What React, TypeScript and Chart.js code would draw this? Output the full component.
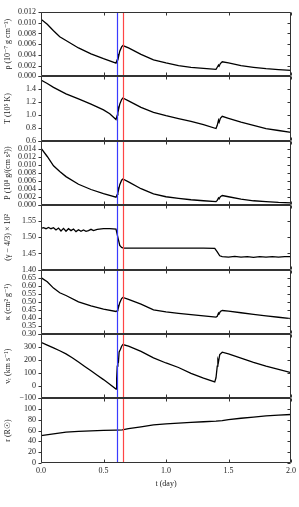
import React, { useEffect, useRef } from 'react';
import { Chart, registerables } from 'chart.js';

Chart.register(...registerables);

// ---------- data ----------
const X_MIN = 0;
const X_MAX = 2.0;
const X_STEP = 0.5;
const MARKER_BLUE_T = 0.608;
const MARKER_RED_T = 0.653;

const RHO_T = [0, 0.05, 0.1, 0.15, 0.2, 0.3, 0.4, 0.5, 0.6, 0.61, 0.615, 0.62, 0.63, 0.645, 0.655, 0.7, 0.8, 0.9, 1.0, 1.1, 1.2, 1.3, 1.4, 1.41, 1.42, 1.425, 1.435, 1.45, 1.5, 1.6, 1.7, 1.8, 1.9, 2.0];
const RHO = [0.01065, 0.0097, 0.0085, 0.0074, 0.0067, 0.0053, 0.0042, 0.0033, 0.00248, 0.0031, 0.0040, 0.0036, 0.0047, 0.0055, 0.00575, 0.0053, 0.0041, 0.0031, 0.0025, 0.0020, 0.0017, 0.0015, 0.0013, 0.0017, 0.0021, 0.0019, 0.0024, 0.00273, 0.0025, 0.0020, 0.0017, 0.00143, 0.00125, 0.00111];

const TEMP_T = [0, 0.05, 0.1, 0.15, 0.2, 0.3, 0.4, 0.5, 0.55, 0.6, 0.61, 0.615, 0.62, 0.63, 0.645, 0.655, 0.7, 0.8, 0.9, 1.0, 1.1, 1.2, 1.3, 1.4, 1.41, 1.42, 1.425, 1.435, 1.45, 1.5, 1.6, 1.7, 1.8, 1.9, 2.0];
const TEMP = [1.543, 1.49, 1.43, 1.38, 1.33, 1.25, 1.17, 1.08, 1.02, 0.93, 1.0, 1.12, 1.08, 1.17, 1.24, 1.265, 1.22, 1.12, 1.04, 0.99, 0.945, 0.90, 0.85, 0.79, 0.84, 0.92, 0.89, 0.95, 0.98, 0.95, 0.89, 0.84, 0.79, 0.76, 0.73];

const PRES_T = [0, 0.05, 0.1, 0.15, 0.2, 0.3, 0.4, 0.5, 0.6, 0.61, 0.615, 0.62, 0.63, 0.645, 0.655, 0.7, 0.8, 0.9, 1.0, 1.1, 1.2, 1.3, 1.4, 1.41, 1.42, 1.425, 1.435, 1.45, 1.5, 1.6, 1.7, 1.8, 1.9, 2.0];
const PRES = [0.0142, 0.0121, 0.0098, 0.0084, 0.0071, 0.0052, 0.0039, 0.0029, 0.0020, 0.0027, 0.0042, 0.0037, 0.0051, 0.0062, 0.0065, 0.0058, 0.0041, 0.0028, 0.0021, 0.0017, 0.00135, 0.0011, 0.0009, 0.0012, 0.0018, 0.0016, 0.0021, 0.0024, 0.0021, 0.0015, 0.0011, 0.0009, 0.0007, 0.00057];

const GAMMA_T = [0, 0.02, 0.04, 0.06, 0.08, 0.10, 0.12, 0.14, 0.16, 0.18, 0.20, 0.22, 0.24, 0.26, 0.28, 0.30, 0.32, 0.34, 0.36, 0.38, 0.40, 0.42, 0.45, 0.50, 0.55, 0.60, 0.615, 0.63, 0.645, 0.66, 0.70, 0.80, 0.90, 1.00, 1.10, 1.20, 1.30, 1.39, 1.41, 1.43, 1.45, 1.50, 1.55, 1.60, 1.65, 1.70, 1.75, 1.80, 1.85, 1.90, 1.95, 2.00];
const GAMMA = [1.528, 1.530, 1.527, 1.531, 1.527, 1.530, 1.523, 1.529, 1.520, 1.528, 1.519, 1.527, 1.521, 1.526, 1.518, 1.524, 1.519, 1.523, 1.519, 1.521, 1.525, 1.521, 1.525, 1.527, 1.527, 1.526, 1.500, 1.475, 1.469, 1.467, 1.467, 1.467, 1.467, 1.467, 1.467, 1.467, 1.467, 1.466, 1.455, 1.443, 1.440, 1.439, 1.441, 1.439, 1.440, 1.438, 1.440, 1.439, 1.440, 1.439, 1.440, 1.440];

const KAPPA_T = [0, 0.05, 0.1, 0.15, 0.2, 0.3, 0.4, 0.5, 0.6, 0.61, 0.615, 0.62, 0.63, 0.645, 0.655, 0.7, 0.8, 0.9, 1.0, 1.1, 1.2, 1.3, 1.4, 1.41, 1.42, 1.425, 1.435, 1.45, 1.5, 1.6, 1.7, 1.8, 1.9, 2.0];
const KAPPA = [0.65, 0.625, 0.585, 0.556, 0.539, 0.500, 0.475, 0.455, 0.440, 0.445, 0.475, 0.465, 0.495, 0.52, 0.527, 0.515, 0.485, 0.450, 0.437, 0.428, 0.420, 0.412, 0.405, 0.41, 0.43, 0.425, 0.44, 0.446, 0.442, 0.432, 0.422, 0.413, 0.404, 0.395];

const VEL_T = [0, 0.05, 0.1, 0.15, 0.2, 0.25, 0.3, 0.35, 0.4, 0.45, 0.5, 0.55, 0.6, 0.605, 0.61, 0.615, 0.62, 0.625, 0.635, 0.645, 0.655, 0.7, 0.8, 0.9, 1.0, 1.1, 1.2, 1.3, 1.39, 1.40, 1.41, 1.415, 1.42, 1.43, 1.45, 1.5, 1.6, 1.7, 1.8, 1.9, 2.0];
const VEL = [336, 314, 292, 270, 246, 216, 182, 148, 114, 80, 46, 10, -28, 50, 150, 200, 190, 260, 280, 305, 318, 305, 265, 215, 175, 140, 95, 58, 28, 60, 150, 200, 185, 240, 259, 245, 213, 180, 150, 125, 100];

const RAD_T = [0, 0.1, 0.2, 0.3, 0.4, 0.5, 0.6, 0.65, 0.7, 0.8, 0.9, 1.0, 1.1, 1.2, 1.3, 1.4, 1.45, 1.5, 1.6, 1.7, 1.8, 1.9, 2.0];
const RAD = [50.8, 54, 57, 58.5, 59.5, 60.3, 61, 61.3, 63.5, 67, 70.5, 72.5, 74, 75.3, 76.5, 77.5, 78.5, 80.5, 83, 85.3, 87.3, 88.8, 90];

// axis settings per panel (top to bottom)
const PANEL_IDS = ['yRho', 'yT', 'yP', 'yGamma', 'yKappa', 'yV', 'yR'];
const PANEL_TITLES = ['ρ (10⁻⁷ g cm⁻³)', 'T (10⁵ K)', 'P (10⁸ g/(cm s²))', '(γ − 4/3) × 10²', 'κ (cm² g⁻¹)', 'vᵣ (km s⁻¹)', 'r (R☉)'];
const PANEL_MIN = [0, 0.6, 0, 1.40, 0.30, -100, 0];
const PANEL_MAX = [0.012, 1.6, 0.016, 1.60, 0.70, 400, 120];
const PANEL_STEP = [0.002, 0.2, 0.002, 0.05, 0.05, 100, 20];
const PANEL_DEC = [3, 1, 3, 2, 2, 0, 0];
const SERIES_T = [RHO_T, TEMP_T, PRES_T, GAMMA_T, KAPPA_T, VEL_T, RAD_T];
const SERIES_V = [RHO, TEMP, PRES, GAMMA, KAPPA, VEL, RAD];

const FONT_FAMILY = "'Liberation Serif', 'DejaVu Serif', serif";
const AXIS_W = 41;

function fmt(v: number, dec: number) {
  const s = Math.abs(v).toFixed(dec);
  return (v < -1e-9 ? '−' : '') + s;
}

const framePlugin = {
  id: 'panelFrames',
  afterDatasetsDraw(chart: any) {
    const { ctx, chartArea } = chart;
    const xs = chart.scales.x;
    ctx.save();
    const marks: [number, string][] = [
      [MARKER_BLUE_T, '#3b3bff'],
      [MARKER_RED_T, '#ff4545'],
    ];
    for (const m of marks) {
      const px = Math.round(xs.getPixelForValue(m[0])) + 0.5;
      ctx.strokeStyle = m[1];
      ctx.globalAlpha = 1;
      ctx.lineWidth = 1.2;
      ctx.beginPath();
      ctx.moveTo(px, chartArea.top);
      ctx.lineTo(px, chartArea.bottom);
      ctx.stroke();
    }
    ctx.restore();
  },
  afterDraw(chart: any) {
    const { ctx, chartArea } = chart;
    const xs = chart.scales.x;
    const left = Math.round(chartArea.left) + 0.5;
    const right = Math.round(chartArea.right) - 0.5;
    ctx.save();
    ctx.strokeStyle = '#333';
    ctx.lineWidth = 1;
    for (const id of PANEL_IDS) {
      const s = chart.scales[id];
      const top = Math.round(s.top) + 0.5;
      const bottom = Math.round(s.bottom) - 0.5;
      ctx.beginPath();
      ctx.rect(left, top, right - left, bottom - top);
      ctx.stroke();
      ctx.beginPath();
      for (const tk of s.ticks) {
        const py = Math.round(s.getPixelForValue(tk.value)) + 0.5;
        ctx.moveTo(left - 3, py);
        ctx.lineTo(left, py);
        ctx.moveTo(right - 3, py);
        ctx.lineTo(right, py);
      }
      for (const tk of xs.ticks) {
        const px = Math.round(xs.getPixelForValue(tk.value)) + 0.5;
        ctx.moveTo(px, top);
        ctx.lineTo(px, top + 3);
        ctx.moveTo(px, bottom - 3);
        ctx.lineTo(px, bottom);
      }
      ctx.stroke();
    }
    ctx.restore();
  },
};

export default function App() {
  const ref = useRef<HTMLCanvasElement | null>(null);

  useEffect(() => {
    if (!ref.current) return;
    const font = { family: FONT_FAMILY, size: 8 };
    const scales: any = {
      x: {
        type: 'linear',
        position: 'bottom',
        min: X_MIN,
        max: X_MAX,
        grid: { display: false, drawTicks: false },
        border: { display: false },
        ticks: {
          stepSize: X_STEP,
          padding: 3,
          color: '#222',
          font,
          maxRotation: 0,
          callback: (v: any) => Number(v).toFixed(1),
        },
        title: { display: true, text: 't (day)', color: '#222', font, padding: { top: 1, bottom: 4 } },
      },
    };
    PANEL_IDS.forEach((id, i) => {
      scales[id] = {
        type: 'linear',
        position: 'left',
        stack: 'panels',
        stackWeight: 1,
        weight: PANEL_IDS.length - i,
        min: PANEL_MIN[i],
        max: PANEL_MAX[i],
        grid: { display: false, drawTicks: false },
        border: { display: false },
        afterFit: (s: any) => { s.width = AXIS_W; },
        ticks: {
          stepSize: PANEL_STEP[i],
          padding: 5,
          color: '#222',
          font,
          autoSkip: false,
          callback: (v: any) => {
            const n = Number(v);
            if (i > 0 && Math.abs(n - PANEL_MAX[i]) < 1e-9) return '';
            return fmt(n, PANEL_DEC[i]);
          },
        },
        title: { display: true, text: PANEL_TITLES[i], color: '#222', font, padding: { top: 3, bottom: 2 } },
      };
    });

    const datasets = PANEL_IDS.map((id, i) => ({
      data: SERIES_T[i].map((t, k) => ({ x: t, y: SERIES_V[i][k] })),
      yAxisID: id,
      xAxisID: 'x',
      borderColor: '#000',
      borderWidth: 1.3,
      pointRadius: 0,
      fill: false,
      tension: 0,
    }));

    const chart = new Chart(ref.current, {
      type: 'line',
      data: { datasets },
      options: {
        animation: false,
        responsive: false,
        devicePixelRatio: 1,
        layout: { padding: { top: 12, left: 0, right: 7, bottom: 14 } },
        plugins: { legend: { display: false }, tooltip: { enabled: false } },
        scales,
      },
      plugins: [framePlugin],
    } as any);
    return () => chart.destroy();
  }, []);

  return (
    <div style={{ position: 'fixed', left: 0, top: 0, width: 299, height: 507, background: '#fff' }}>
      <canvas ref={ref} width={299} height={507} style={{ display: 'block', width: 299, height: 507 }} />
    </div>
  );
}
